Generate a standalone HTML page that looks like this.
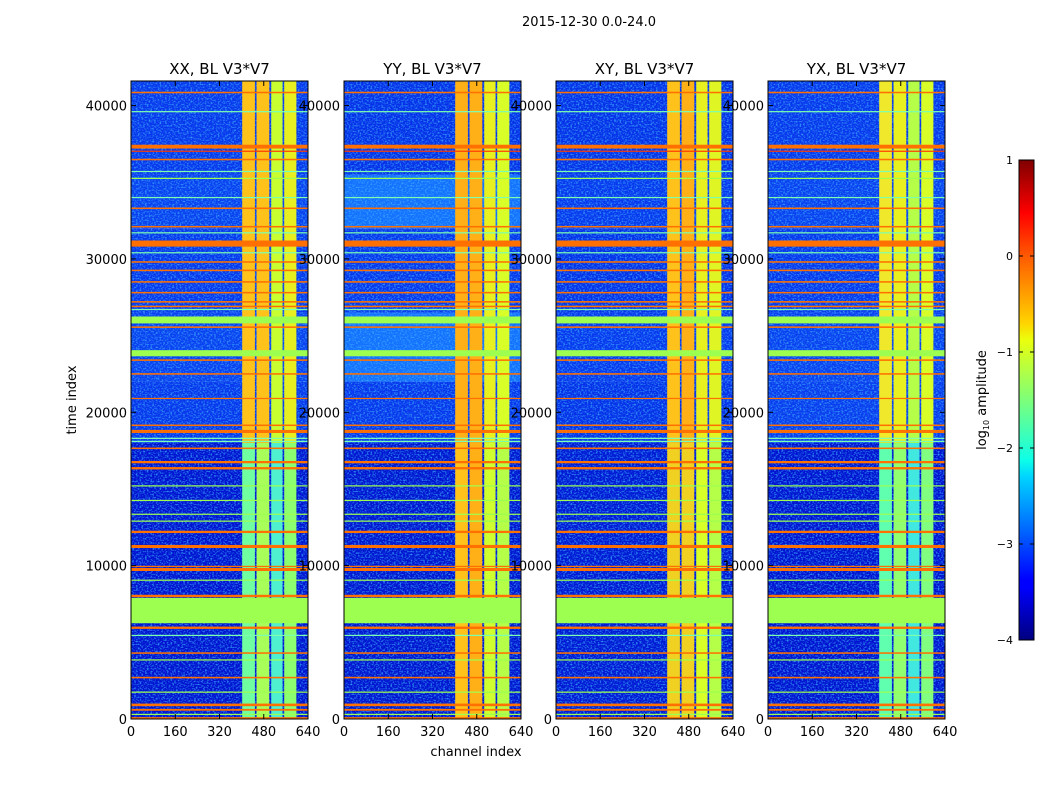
<!DOCTYPE html>
<html><head><meta charset="utf-8">
<style>
html,body{margin:0;padding:0;background:#fff;}
svg text{font-family:"DejaVu Sans","Liberation Sans",sans-serif;}
</style></head>
<body>
<svg id="fig" width="1050" height="800" viewBox="0 0 1050 800" xmlns="http://www.w3.org/2000/svg">
<defs>
<filter id="noise" x="0" y="0" width="100%" height="100%">
<feTurbulence type="fractalNoise" baseFrequency="0.55 0.7" numOctaves="1" seed="3"/>
<feColorMatrix type="matrix" values="0 0 0 0 0.05  0 0 0 0 0.45  0 0 0 0 1  0 0 0 3 -1.35"/>
</filter>
<linearGradient id="jet" x1="0" y1="1" x2="0" y2="0">
<stop offset="0" stop-color="#00007f"/>
<stop offset="0.11" stop-color="#0000ff"/>
<stop offset="0.125" stop-color="#0000ff"/>
<stop offset="0.34" stop-color="#00d4ff"/>
<stop offset="0.375" stop-color="#0dffe8"/>
<stop offset="0.5" stop-color="#7dff7a"/>
<stop offset="0.625" stop-color="#eaff0d"/>
<stop offset="0.66" stop-color="#ffd400"/>
<stop offset="0.8" stop-color="#ff5a00"/>
<stop offset="0.89" stop-color="#ff0000"/>
<stop offset="1" stop-color="#7f0000"/>
</linearGradient>
</defs>
<text x="589" y="26" font-size="13" text-anchor="middle">2015-12-30 0.0-24.0</text>
<text x="476" y="756" font-size="13" text-anchor="middle">channel index</text>
<text x="76" y="400" font-size="13" text-anchor="middle" transform="rotate(-90 76 400)">time index</text>
<g id="panels"></g>
<g id="cbar"></g>
</svg>
<script>
// ---- data ----
const panelTitles = ["XX, BL V3*V7","YY, BL V3*V7","XY, BL V3*V7","YX, BL V3*V7"];
const xTicks = [0,160,320,480,640];
const yTicks = [0,10000,20000,30000,40000];
const cbTicks = [1,0,-1,-2,-3,-4];
const cbTickLabels = ["1","0","\u22121","\u22122","\u22123","\u22124"];
// vertical channel bands [start, end]
const bandStarts = [402,454,507,554];
const bandEnds = [448,500,548,598];
const bandUpper = [
 ["#ffc21a","#ffc21a","#c8ff30","#e8ef20"],
 ["#ffb016","#ffb016","#e8f020","#d9ff28"],
 ["#ffc21a","#ffb016","#e8f020","#e0f524"],
 ["#f0e82a","#e8f020","#b5ff48","#d9ff28"]];
const bandLower = [
 ["#70ffa0","#a8ff5a","#4ff0d0","#8cff70"],
 ["#ffc21a","#ffb016","#d0ff30","#b5ff48"],
 ["#f0d020","#f0d020","#d9ff28","#b5ff48"],
 ["#60ffb0","#90ff70","#40e8e0","#80ff80"]];
// background segments
const bgStarts = [0,18000,22000,26500,32000,35500];
const bgEnds = [18000,22000,26500,32000,35500,41600];
const bgColors = [
 ["#0012d0","#0836ec","#0a40f0","#0836ec","#0a40f0","#0836ec"],
 ["#0014d0","#0836ec","#1470ff","#0836ec","#1470ff","#0630e8"],
 ["#0018d4","#0630e8","#0838ee","#0630e8","#0838ee","#0630e8"],
 ["#0012d0","#0a3cee","#0a40f0","#0836ec","#0a40f0","#0836ec"]];
// horizontal flag lines
const lineT = [40850,39600,37320,37020,36480,35700,35250,34000,33300,32100,31700,31000,30400,29800,29250,28500,27800,27200,26900,26700,26020,25550,23850,23400,22500,20900,19150,18800,18700,18300,18100,17650,16750,16350,15200,14250,13350,12900,12200,11250,9950,9750,9050,8020,7070,5950,5450,4300,3850,2700,1750,920,600,300,50];
const lineW = [100,80,250,60,100,80,80,70,100,100,80,400,80,100,100,100,100,100,100,80,450,100,400,100,100,80,100,100,100,80,80,100,150,150,80,80,80,80,150,200,80,200,80,160,1650,150,80,100,80,100,80,170,120,80,140];
const lineKind = ["o","c","o","r","o","c","g","c","o","o","c","o","c","o","o","o","o","o","o","c","g","o","g","o","o","o","o","o","o","c","c","o","o","o","g","g","g","g","o","o","o","o","g","o","g","o","c","o","g","o","g","o","o","g","o"];
const kindColor = {o:"#ff7000",c:"#7dffb0",g:"#9dff50",r:"#ff3a00"};

// ---- layout ----
const panelX = [131,344,556,768];
const PW = 177, PT = 81, PB = 719, TMAX = 41600, CMAX = 640;
const NS = "http://www.w3.org/2000/svg";
function mk(tag, attrs, parent){const e=document.createElementNS(NS,tag);for(const k in attrs)e.setAttribute(k,attrs[k]);parent.appendChild(e);return e;}
const panels = document.getElementById('panels');

panelTitles.forEach((title,p)=>{
  const x0 = panelX[p];
  const xs = c => x0 + c/CMAX*PW;
  const ys = t => PB - t/TMAX*(PB-PT);
  const g = mk('g',{},panels);
  
  
  const clipId='clip'+p;
  const cp = mk('clipPath',{id:clipId},g);
  mk('rect',{x:x0,y:PT,width:PW,height:PB-PT},cp);
  const hm = mk('g',{'clip-path':'url(#'+clipId+')'},g);
  
  
  bgStarts.forEach((s,i)=>{
    const r = mk('rect',{x:x0,y:ys(bgEnds[i]),width:PW,height:ys(s)-ys(bgEnds[i]),fill:bgColors[p][i]},hm);
    
    
  });
  const nz = mk('rect',{x:x0,y:PT,width:PW,height:PB-PT,filter:'url(#noise)',opacity:'0.8'},hm);
  
  
  bandStarts.forEach((s,i)=>{
    const up = mk('rect',{x:xs(s),y:ys(TMAX),width:xs(bandEnds[i])-xs(s),height:ys(18000)-ys(TMAX),fill:bandUpper[p][i]},hm);
    
    
    const lo = mk('rect',{x:xs(s),y:ys(18000),width:xs(bandEnds[i])-xs(s),height:ys(0)-ys(18000),fill:bandLower[p][i]},hm);
    
    
  });
  lineT.forEach((t,i)=>{
    const h = Math.max(1.2, lineW[i]/TMAX*(PB-PT));
    const l = mk('rect',{x:x0,y:ys(t)-h/2,width:PW,height:h,fill:kindColor[lineKind[i]]},hm);
    
    
  });
  const fr = mk('rect',{x:x0,y:PT,width:PW,height:PB-PT,fill:'none',stroke:'#000','stroke-width':1},g);
  
  
  const tt = mk('text',{x:x0+PW/2,y:74,'font-size':15,'text-anchor':'middle'},g);
  tt.textContent = title;
  
  
  xTicks.forEach(v=>{
    mk('line',{x1:xs(v),x2:xs(v),y1:PB,y2:PB-5,stroke:'#000'},g);
    mk('line',{x1:xs(v),x2:xs(v),y1:PT,y2:PT+5,stroke:'#000'},g);
    const tx = mk('text',{x:xs(v),y:PB+17,'font-size':13,'text-anchor':'middle'},g);
    tx.textContent = v;
    
    
  });
  yTicks.forEach(v=>{
    mk('line',{x1:x0,x2:x0+5,y1:ys(v),y2:ys(v),stroke:'#000'},g);
    mk('line',{x1:x0+PW,x2:x0+PW-5,y1:ys(v),y2:ys(v),stroke:'#000'},g);
    const ty = mk('text',{x:x0-4,y:ys(v)+5,'font-size':13,'text-anchor':'end'},g);
    ty.textContent = v;
    
    
  });
});

// colorbar
const cb = document.getElementById('cbar');
const CBX=1019, CBW=15, CBT=160, CBB=640, VMIN=-4, VMAX=1;
const cys = v => CBB - (v-VMIN)/(VMAX-VMIN)*(CBB-CBT);
const cr = mk('rect',{x:CBX,y:CBT,width:CBW,height:CBB-CBT,fill:'url(#jet)',stroke:'#000','stroke-width':1},cb);


cbTicks.forEach((v,i)=>{
  mk('line',{x1:CBX,x2:CBX+4,y1:cys(v),y2:cys(v),stroke:'#000'},cb);
  mk('line',{x1:CBX+CBW,x2:CBX+CBW-4,y1:cys(v),y2:cys(v),stroke:'#000'},cb);
  const t = mk('text',{x:CBX-6,y:cys(v)+4,'font-size':11,'text-anchor':'end'},cb);
  t.textContent = cbTickLabels[i];
  
  
});
const cl = mk('text',{x:986,y:400,'font-size':13,'text-anchor':'middle',transform:'rotate(-90 986 400)'},cb);


cl.innerHTML = 'log<tspan font-size="8" dy="3">10</tspan><tspan dy="-3"> amplitude</tspan>';
</script>
</body></html>
